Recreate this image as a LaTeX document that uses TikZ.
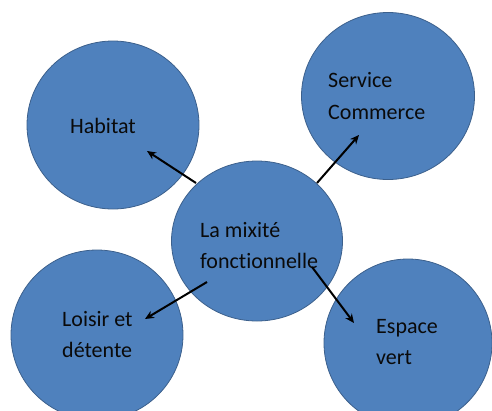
\documentclass[tikz,border=0pt]{standalone}
\usepackage{fontspec}
\setmainfont{Carlito}[Ligatures=NoCommon]
\usetikzlibrary{shapes.geometric,arrows.meta}
\definecolor{bubble}{RGB}{79,129,189}
\definecolor{bubbleedge}{RGB}{60,96,140}
\definecolor{txt}{RGB}{10,10,10}
\tikzset{
  bubblenode/.style={ellipse, fill=bubble, draw=bubbleedge, line width=0.8pt, inner sep=0pt},
  lbl/.style={anchor=base west, inner sep=0pt, font=\fontsize{22}{30}\selectfont, text=txt},
  conn/.style={line width=2pt, -{Stealth[length=9pt,width=8pt]}}
}
\begin{document}
\begin{tikzpicture}[x=1pt,y=-1pt]
\useasboundingbox (0,0) rectangle (492,410);
\node[bubblenode, minimum width=172pt, minimum height=168pt] (hab) at (113,125) {};
\node[bubblenode, minimum width=173pt, minimum height=167pt] (ser) at (388,96) {};
\node[bubblenode, minimum width=171pt, minimum height=160pt] (mix) at (257,241) {};
\node[bubblenode, minimum width=172pt, minimum height=170pt] (loi) at (97,335) {};
\node[bubblenode, minimum width=168pt, minimum height=168pt] (esp) at (408,343) {};

\node[lbl] (habt) at (70,133) {Habitat};
\node[lbl] (sert1) at (328,87) {Service};
\node[lbl] (sert2) at (328,119) {Commerce};
\node[lbl] (mixt1) at (200,237) {La mixité};
\node[lbl] (mixt2) at (200,268) {fonctionnelle};
\node[lbl] (loit1) at (62,326) {Loisir et};
\node[lbl] (loit2) at (62,357) {détente};
\node[lbl] (espt1) at (376,333) {Espace};
\node[lbl] (espt2) at (376,364) {vert};

\coordinate (a1) at (196,183); \coordinate (b1) at (147,151);
\coordinate (a2) at (317,183); \coordinate (b2) at (359,135);
\coordinate (a3) at (207,282); \coordinate (b3) at (145,319);
\coordinate (a4) at (312,267); \coordinate (b4) at (354,323);
\draw[conn] (a1) -- (b1);
\draw[conn] (a2) -- (b2);
\draw[conn] (a3) -- (b3);
\draw[conn] (a4) -- (b4);
\end{tikzpicture}
\end{document}
